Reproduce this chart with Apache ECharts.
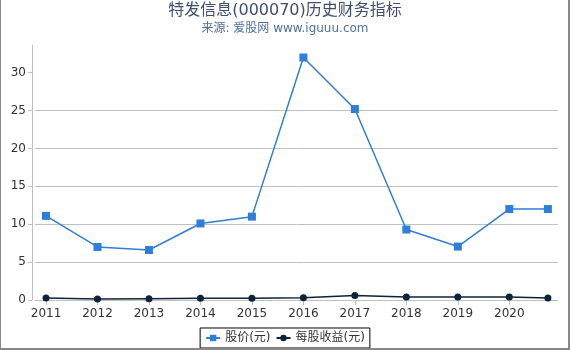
<!DOCTYPE html>
<html>
<head>
<meta charset="utf-8">
<script src="https://cdn.jsdelivr.net/npm/echarts@6/dist/echarts.min.js"></script>
<style>
html,body{margin:0;padding:0;background:#fff;}
#wrap{position:relative;width:570px;height:350px;}
#chart{width:570px;height:350px;}
#frame{position:absolute;left:0;top:0;width:570px;height:350px;box-sizing:border-box;border-left:1px solid #888;border-right:2px solid #888;border-bottom:2px solid #888;pointer-events:none;}
</style>
</head>
<body>
<div id="wrap"><div id="chart"></div><div id="frame"></div></div>
<script>
// Data
const years = [2011, 2012, 2013, 2014, 2015, 2016, 2017, 2018, 2019, 2020, 2020.75];
const yearTicks = [2011, 2012, 2013, 2014, 2015, 2016, 2017, 2018, 2019, 2020];
const priceValues = [11.1, 7.0, 6.6, 10.1, 11.0, 32.0, 25.2, 9.3, 7.05, 12.0, 12.0];
const epsValues = [0.26, 0.13, 0.17, 0.22, 0.22, 0.3, 0.6, 0.4, 0.4, 0.38, 0.25];
const yTicks = [0, 5, 10, 15, 20, 25, 30];
const seriesNames = ['股价(元)', '每股收益(元)'];

const FONT = "'DejaVu Sans', 'Noto Sans CJK SC', sans-serif";
const chart = echarts.init(document.getElementById('chart'), null, {renderer: 'canvas'});
const pair = (vals) => years.map((x, i) => [x, vals[i]]);

chart.setOption({
  animation: false,
  backgroundColor: '#fff',
  textStyle: {fontFamily: FONT},
  title: {
    text: '特发信息(000070)历史财务指标',
    subtext: '来源: 爱股网 www.iguuu.com',
    left: 'center',
    top: 1,
    padding: [2, 5],
    itemGap: 4,
    textStyle: {fontFamily: FONT, fontSize: 16, fontWeight: 'normal', color: '#3e4e6e'},
    subtextStyle: {fontFamily: FONT, fontSize: 12, color: '#4f6f9f'}
  },
  legend: {
    bottom: 2,
    left: 'center',
    data: seriesNames,
    borderColor: '#000',
    borderWidth: 1,
    borderRadius: 0,
    padding: [4, 5],
    itemWidth: 14,
    itemHeight: 8,
    itemGap: 5,
    textStyle: {fontFamily: FONT, fontSize: 12, color: '#333'}
  },
  grid: {left: 35, right: 12, top: 45, bottom: 50, containLabel: false},
  xAxis: {
    type: 'value',
    min: 2010.786,
    max: 2020.946,
    offset: 4,
    axisLine: {show: true, lineStyle: {color: '#c0c0c0', width: 1}},
    axisTick: {show: true, length: 5, lineStyle: {color: '#c0c0c0'}, customValues: yearTicks},
    axisLabel: {customValues: yearTicks, margin: 4, fontFamily: FONT, fontSize: 12, color: '#333', formatter: v => String(v)},
    splitLine: {show: false}
  },
  yAxis: {
    type: 'value',
    min: 0,
    max: 33.65,
    interval: 5,
    offset: 3,
    axisLine: {show: true, lineStyle: {color: '#c0c0c0', width: 1}},
    axisTick: {show: true, length: 4, lineStyle: {color: '#c0c0c0'}, customValues: yTicks},
    axisLabel: {customValues: yTicks, margin: 6, fontFamily: FONT, fontSize: 12, color: '#333'},
    splitLine: {show: true, showMinLine: false, showMaxLine: false, lineStyle: {color: '#c0c0c0', width: 1}}
  },
  series: [
    {
      name: seriesNames[0],
      type: 'line',
      data: pair(priceValues),
      symbol: 'rect',
      symbolSize: 8,
      itemStyle: {color: '#2f7ed8'},
      lineStyle: {color: '#2f7ed8', width: 1.5},
      z: 3
    },
    {
      name: seriesNames[1],
      type: 'line',
      data: pair(epsValues),
      symbol: 'circle',
      symbolSize: 7,
      itemStyle: {color: '#0d233a'},
      lineStyle: {color: '#0d233a', width: 1.5},
      z: 4
    }
  ]
});
</script>
</body>
</html>
